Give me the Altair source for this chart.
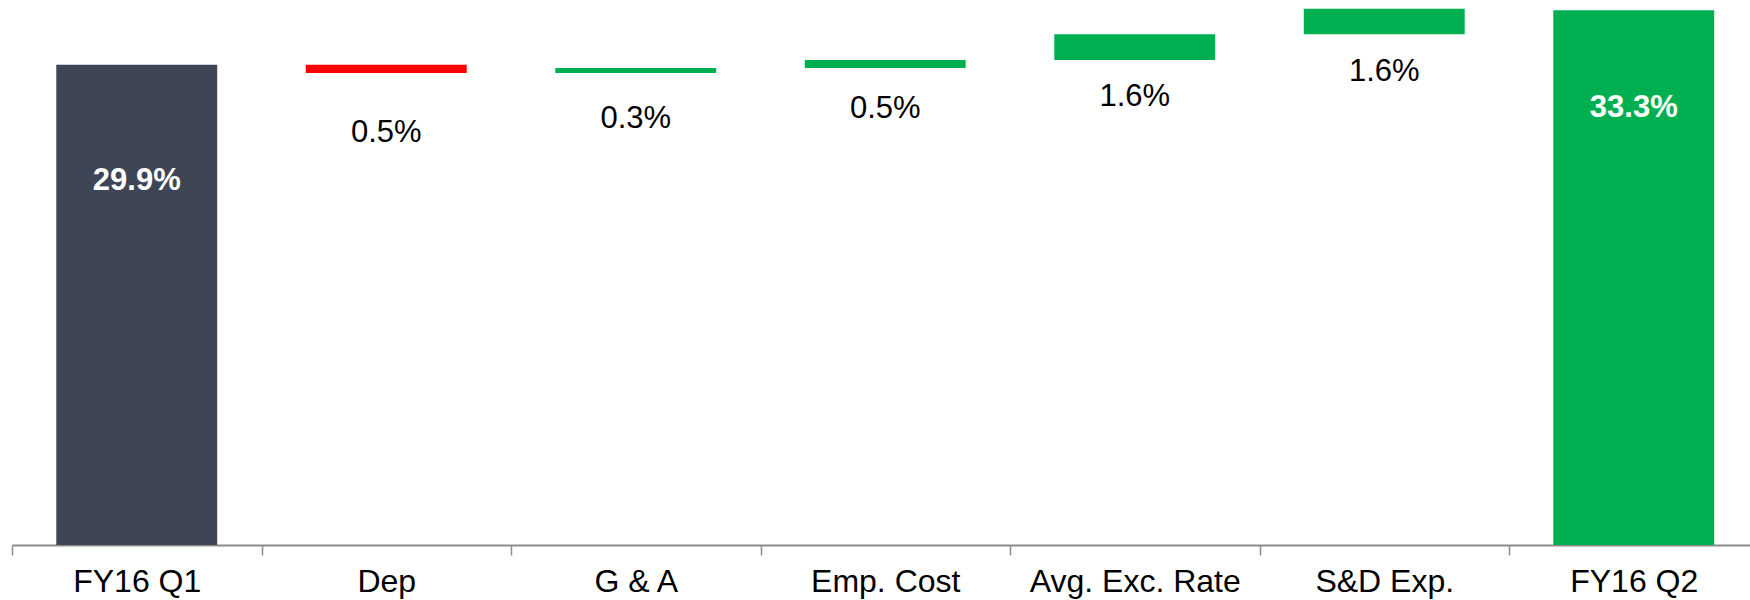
import altair as alt
import pandas as pd

categories = ["FY16 Q1", "Dep", "G & A", "Emp. Cost", "Avg. Exc. Rate", "S&D Exp.", "FY16 Q2"]
values = [29.9, -0.5, 0.3, 0.5, 1.6, 1.6, 33.3]
is_total = [True, False, False, False, False, False, True]
label_text = ["29.9%", "0.5%", "0.3%", "0.5%", "1.6%", "1.6%", "33.3%"]
label_pos = [22.65, 25.63, 26.56, 27.13, 27.93, 29.48, 27.2]

DARK = "#3e4554"
GREEN = "#00b050"
RED = "#ff0000"

rows = []
level = 0.0
for i, (c, v, t) in enumerate(zip(categories, values, is_total)):
    if t:
        start, end = 0.0, v
        level = v
        color = DARK if i == 0 else GREEN
    else:
        start, end = level, level + v
        level = end
        color = GREEN if v >= 0 else RED
    rows.append({
        "cat": c, "start": start, "end": end, "color": color,
        "label": label_text[i], "lpos": label_pos[i], "total": t,
    })
df = pd.DataFrame(rows)

FONT = "Liberation Sans"

xscale = alt.Scale(range=[0, 1746.5], paddingInner=0, paddingOuter=0)
x = alt.X(
    "cat:N",
    sort=categories,
    title=None,
    scale=xscale,
    axis=alt.Axis(
        tickBand="extent",
        domainColor="#8c8c8c",
        domainWidth=2,
        tickColor="#8c8c8c",
        tickWidth=1.5,
        tickSize=10,
        labelPadding=11,
        labelFont=FONT,
        labelFontSize=32,
        labelColor="#000000",
        labelAngle=0,
        labelLimit=0,
        grid=False,
    ),
)
yscale = alt.Scale(domain=[0, 33.94], nice=False, zero=False)

base = alt.Chart(df)

bars = base.mark_bar(width=alt.RelativeBandSize(0.645)).encode(
    x=x,
    y=alt.Y("start:Q", scale=yscale, axis=None),
    y2="end:Q",
    color=alt.Color("color:N", scale=None),
)

delta_labels = base.transform_filter("!datum.total").mark_text(
    font=FONT, fontSize=31, color="#000000", baseline="middle", align="center"
).encode(
    x=alt.X("cat:N", sort=categories),
    y=alt.Y("lpos:Q", scale=yscale),
    text="label:N",
)

total_labels = base.transform_filter("datum.total").mark_text(
    font=FONT, fontSize=31, fontWeight="bold", color="#ffffff", baseline="middle", align="center"
).encode(
    x=alt.X("cat:N", sort=categories),
    y=alt.Y("lpos:Q", scale=yscale),
    text="label:N",
)

chart = (bars + delta_labels + total_labels).properties(
    width=1738,
    height=545,
    autosize=alt.AutoSizeParams(type="none"),
    padding={"left": 12, "top": 0, "right": 0, "bottom": 55},
    background="#ffffff",
).configure_view(stroke=None, strokeWidth=0)

chart.save("out.html", embed_options={"renderer": "svg", "actions": False})
